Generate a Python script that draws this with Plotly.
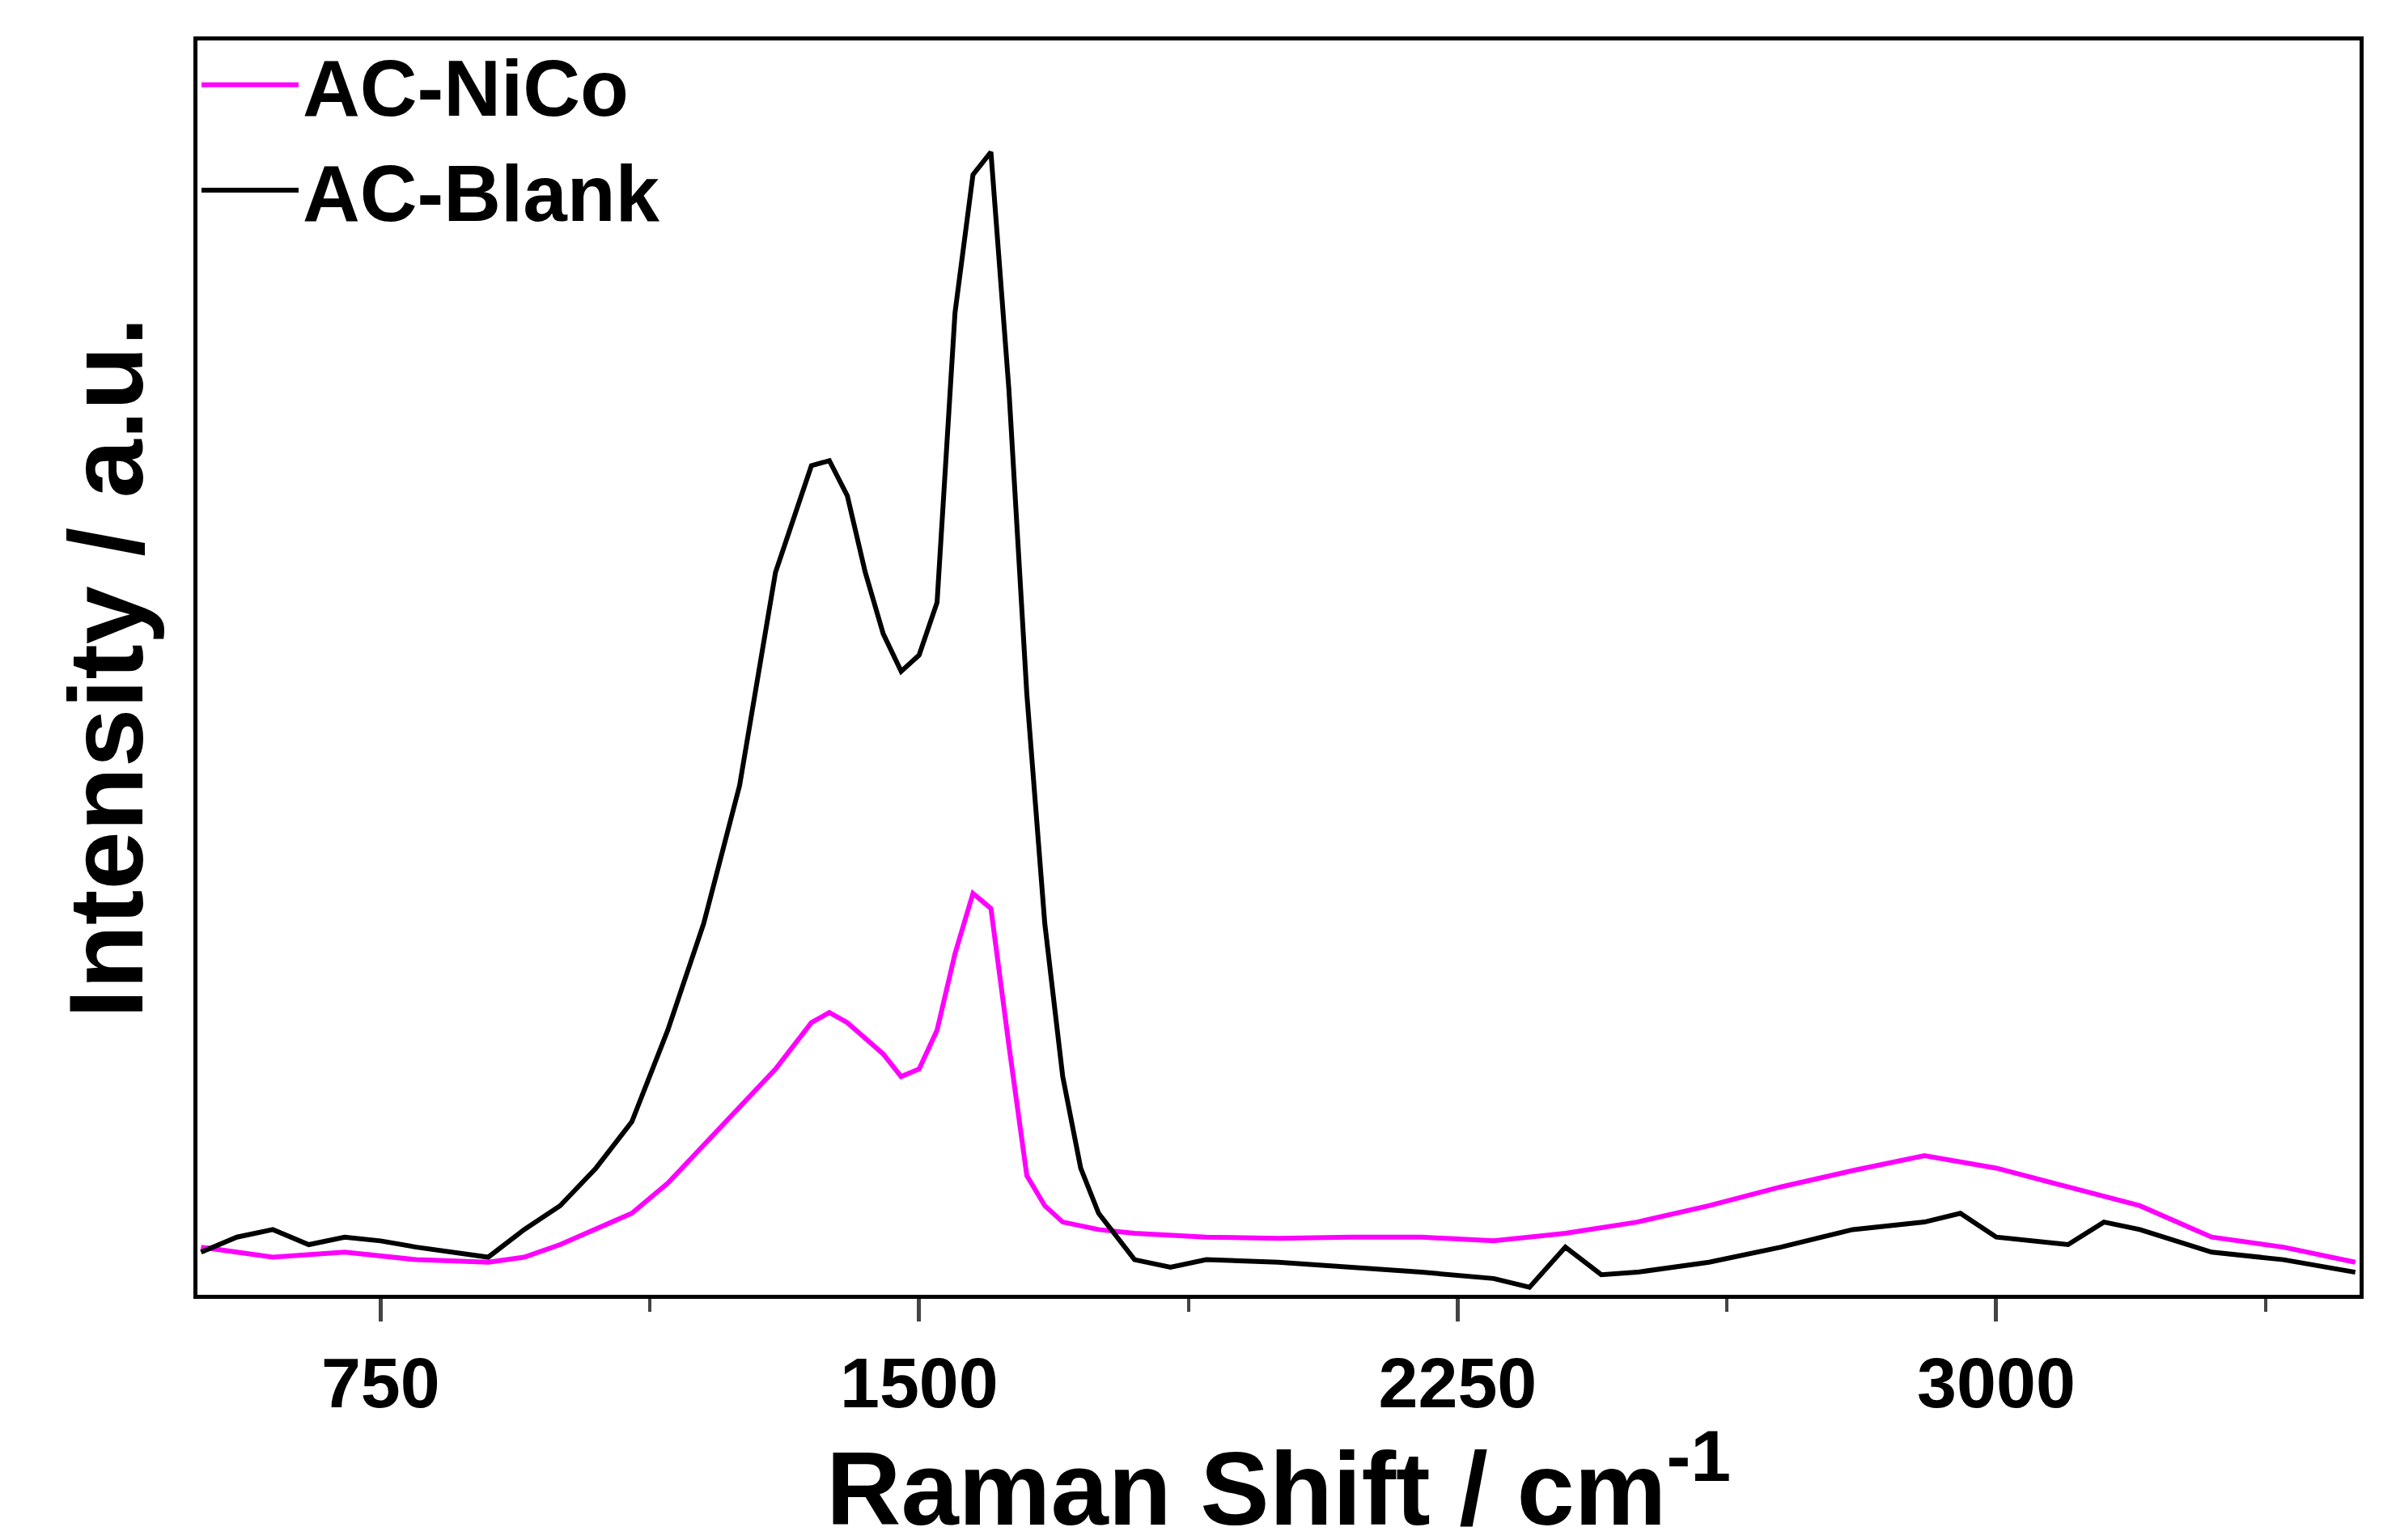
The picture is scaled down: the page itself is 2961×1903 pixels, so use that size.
import plotly.graph_objects as go

x_blank = [500,550,600,650,700,750,800,850,900,950,1000,1050,1100,1150,1200,1250,1300,1350,1375,1400,1425,1450,1475,1500,1525,1550,1575,1600,1625,1650,1675,1700,1725,1750,1775,1800,1850,1900,2000,2100,2200,2300,2350,2400,2450,2500,2600,2700,2800,2900,2950,3000,3100,3150,3200,3300,3400,3500]
y_blank = [3.4,4.6,5.2,4.0,4.6,4.3,3.8,3.4,3.0,5.2,7.1,10.1,13.8,21.1,29.6,40.6,57.6,66.1,66.5,63.7,57.6,52.7,49.7,51.0,55.2,78.3,89.3,91.1,72.2,47.9,29.6,17.4,10.1,6.5,4.6,2.8,2.2,2.8,2.6,2.2,1.8,1.3,0.6,3.8,1.6,1.8,2.6,3.8,5.2,5.8,6.5,4.6,4.0,5.8,5.2,3.4,2.8,1.8]

x_nico = [500,600,700,800,900,950,1000,1050,1100,1150,1200,1250,1300,1350,1375,1400,1450,1475,1500,1525,1550,1575,1600,1625,1650,1675,1700,1750,1800,1900,2000,2100,2200,2300,2400,2500,2600,2700,2800,2900,3000,3100,3200,3300,3400,3500]
y_nico = [3.8,3.0,3.4,2.8,2.6,3.0,4.0,5.2,6.5,8.9,11.9,15.0,18.0,21.7,22.5,21.7,19.2,17.4,18.0,21.1,27.2,32.0,30.8,19.9,9.5,7.1,5.8,5.2,4.9,4.6,4.5,4.6,4.6,4.3,4.9,5.8,7.1,8.6,9.9,11.1,10.1,8.6,7.1,4.6,3.8,2.6]

tick_vals = [750, 1500, 2250, 3000]

fig = go.Figure()
fig.add_trace(go.Scatter(x=x_nico, y=y_nico, name="AC-NiCo", mode="lines",
                         line=dict(color="#ff00ff", width=6)))
fig.add_trace(go.Scatter(x=x_blank, y=y_blank, name="AC-Blank", mode="lines",
                         line=dict(color="#000000", width=6)))

font = "Liberation Sans"
fig.update_layout(
    width=2961, height=1903,
    margin=dict(l=236, r=53, t=42, b=311),
    plot_bgcolor="white", paper_bgcolor="white",
    font=dict(family=font, color="black"),
    legend=dict(x=0.0, y=1.01, xanchor="left", yanchor="top",
                font=dict(size=98, family=font, weight="bold"),
                bgcolor="rgba(0,0,0,0)", tracegroupgap=0, itemwidth=120),
)
fig.update_xaxes(range=[495, 3506], tickvals=tick_vals,
                 ticks="outside", ticklen=28, tickwidth=5,
                 minor=dict(tickvals=[1125, 1875, 2625, 3375], ticks="outside", ticklen=16, tickwidth=4),
                 showline=True, linewidth=5, linecolor="black", mirror=True,
                 showgrid=False, zeroline=False,
                 tickfont=dict(size=88, family=font, weight="bold"),
                 title=dict(text="Raman Shift / cm<sup>-1</sup>",
                            font=dict(size=128, family=font, weight="bold"), standoff=0))
fig.update_yaxes(range=[0, 100], showticklabels=False, ticks="",
                 showline=True, linewidth=5, linecolor="black", mirror=True,
                 showgrid=False, zeroline=False,
                 title=dict(text="Intensity / a.u.",
                            font=dict(size=130, family=font, weight="bold"), standoff=20))
fig.write_html("out.html")
